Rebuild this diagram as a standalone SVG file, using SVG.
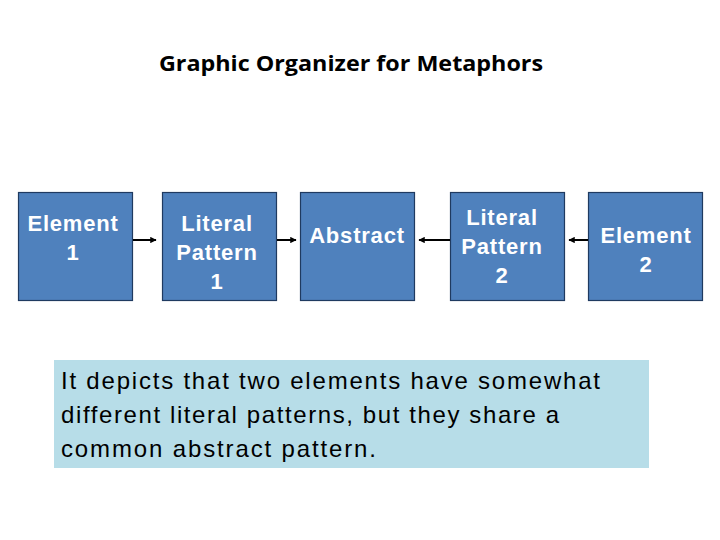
<svg xmlns="http://www.w3.org/2000/svg" width="720" height="540" viewBox="0 0 720 540">
<defs>
<style>
.box{fill:#4F81BD;stroke:#1F3A60;stroke-width:1.2}
.lbl{font-family:"Liberation Sans",Arial,sans-serif;font-size:22px;font-weight:bold;letter-spacing:0.8px;fill:#FFFFFF;text-anchor:middle}
.con{stroke:#000;stroke-width:2;fill:none}
.cap{font-family:"Liberation Sans",Arial,sans-serif;font-size:24px;fill:#000}
</style>
<marker id="ah" viewBox="0 0 10 10" refX="9" refY="5" markerWidth="3.2" markerHeight="3.2" orient="auto" markerUnits="strokeWidth">
<path d="M0,0 L10,5 L0,10 z" fill="#000"/>
</marker>
</defs>
<rect width="720" height="540" fill="#FFFFFF"/>
<text x="351" y="71" font-family="'Open Sans','Liberation Sans',sans-serif" font-weight="bold" font-size="22" text-anchor="middle" textLength="384" lengthAdjust="spacingAndGlyphs" fill="#000">Graphic Organizer for Metaphors</text>
<g id="element1">
<rect class="box" x="18.5" y="192.5" width="114" height="108"/>
<text class="lbl" x="73" y="231">Element</text>
<text class="lbl" x="73" y="260">1</text>
</g>
<g id="literal1">
<rect class="box" x="162.5" y="192.5" width="114" height="108"/>
<text class="lbl" x="217" y="231">Literal</text>
<text class="lbl" x="217" y="260">Pattern</text>
<text class="lbl" x="217" y="289">1</text>
</g>
<g id="abstract">
<rect class="box" x="300.5" y="192.5" width="114" height="108"/>
<text class="lbl" x="357" y="243">Abstract</text>
</g>
<g id="literal2">
<rect class="box" x="450.5" y="192.5" width="114" height="108"/>
<text class="lbl" x="502" y="225">Literal</text>
<text class="lbl" x="502" y="254">Pattern</text>
<text class="lbl" x="502" y="283">2</text>
</g>
<g id="element2">
<rect class="box" x="588.5" y="192.5" width="114" height="108"/>
<text class="lbl" x="646" y="243">Element</text>
<text class="lbl" x="646" y="272">2</text>
</g>
<g id="connectors">
<line class="con" x1="133" y1="240" x2="156" y2="240" marker-end="url(#ah)"/>
<line class="con" x1="277" y1="240" x2="296" y2="240" marker-end="url(#ah)"/>
<line class="con" x1="450" y1="240" x2="419" y2="240" marker-end="url(#ah)"/>
<line class="con" x1="588" y1="240" x2="569" y2="240" marker-end="url(#ah)"/>
</g>
<g id="caption">
<rect x="54" y="360" width="595" height="108" fill="#B7DDE8"/>
<text class="cap" x="61" y="389" textLength="539" lengthAdjust="spacing">It depicts that two elements have somewhat</text>
<text class="cap" x="61" y="423" textLength="498" lengthAdjust="spacing">different literal patterns, but they share a</text>
<text class="cap" x="61" y="457" textLength="315" lengthAdjust="spacing">common abstract pattern.</text>
</g>
</svg>
